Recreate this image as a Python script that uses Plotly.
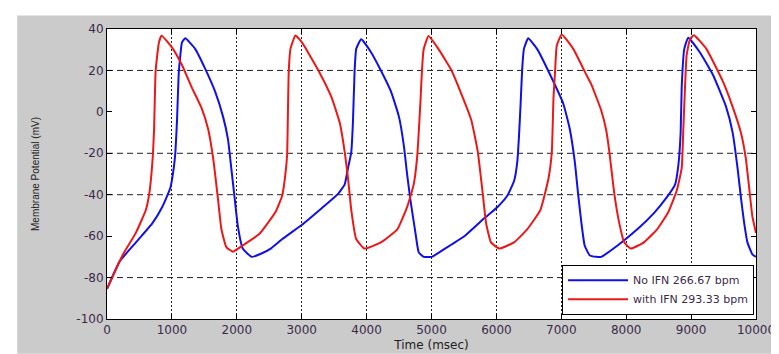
import plotly.graph_objects as go

# ---------------- data ----------------
time_no_ifn = [0, 193, 446, 700, 851, 978, 1028, 1054, 1079, 1104, 1130, 1155, 1206,
               1358, 1510, 1662, 1788, 1864, 1915, 1965, 2016, 2092, 2230, 2371, 2523,
               2701, 3004, 3308, 3561, 3663, 3713, 3764, 3789, 3815, 3840, 3916,
               4068, 4220, 4372, 4498, 4574, 4625, 4676, 4752, 4802, 4878, 5005,
               5208, 5512, 5816, 6018, 6170, 6272, 6322, 6348, 6373, 6398, 6424, 6489,
               6626, 6828, 7031, 7132, 7208, 7259, 7310, 7360, 7436, 7538, 7614,
               7867, 8171, 8424, 8627, 8754, 8804, 8839, 8855, 8895, 8956,
               9134, 9336, 9539, 9640, 9716, 9767, 9818, 9868, 9944, 10000]
v_no_ifn = [-85.5, -72.3, -63, -53.7, -45.9, -36.5, -27.2, -19.4, -3.9, 17.9, 27.3, 33.5, 35.5,
            30.4, 21, 10.1, -2.3, -13.2, -27.2, -41.2, -55.2, -66, -70, -68.5, -66,
            -61.4, -54.5, -46.5, -39.6, -35, -27.2, -19.4, -5.4, 19.5, 30.4, 35,
            28.8, 20, 10.1, -2.3, -16.3, -30.3, -42.7, -58.3, -67.7, -70, -70,
            -66, -59.9, -51.3, -45.9, -40.4, -33.4, -24.1, -11.7, 3.9, 21, 30.4, 35.5,
            30.4, 17.9, 3.9, -8.5, -24.1, -39.6, -53.7, -64.5, -69.2, -70, -70,
            -64.5, -56.7, -49, -41.2, -35, -25.7, -10, 11.7, 30.4, 35.8,
            28.8, 17.9, 2.4, -10, -27.2, -41.2, -53.7, -63, -68.8, -70]

time_ifn = [0, 243, 446, 598, 649, 700, 725, 750, 800, 841,
            1003, 1155, 1307, 1459, 1560, 1636, 1712, 1763, 1839, 1940, 2067,
            2345, 2599, 2700, 2751, 2776, 2790, 2801, 2827, 2903,
            3004, 3257, 3460, 3587, 3663, 3713, 3764, 3840, 3967,
            4220, 4473, 4625, 4726, 4777, 4828, 4853, 4878, 4954,
            5106, 5309, 5461, 5613, 5714, 5790, 5841, 5917, 6044,
            6272, 6474, 6677, 6804, 6854, 6880, 6905, 6930, 7006,
            7184, 7386, 7462, 7614, 7690, 7741, 7817, 7893, 7969, 8070,
            8273, 8476, 8652, 8779, 8855, 8880, 8906, 8931, 8982, 9043,
            9235, 9488, 9640, 9767, 9843, 9894, 9944, 10000]
v_ifn = [-85.5, -69, -58.3, -47.4, -40, -24, -8.5, 20, 33.5, 36.8,
         31, 22.6, 11.7, 1.7, -8.5, -22.5, -42.6, -56.7, -65.3, -67.5, -65,
         -59, -48.2, -40.4, -29.5, -20.2, 3.9, 20, 30.4, 36.9,
         33.5, 20, 7, -5.4, -19.4, -31.9, -47.4, -61.4, -66,
         -63, -56.7, -45.9, -35, -22.5, 3.9, 20, 30, 36.6,
         30.4, 20, 8.6, -3.9, -19.4, -39.6, -53.7, -63, -66,
         -63, -56.7, -47.4, -31.9, -19.4, 7, 20, 31.9, 37.4,
         30.4, 17.9, 13.3, 0.8, -8.5, -19.4, -39.6, -53.7, -63, -66,
         -63, -56.7, -48.2, -38, -27.2, -8.5, 11.7, 27.3, 35, 37,
         30.4, 14.8, 2.4, -10, -22.5, -36.5, -50.5, -58.5]

series_names = ["No IFN 266.67 bpm", "with IFN 293.33 bpm"]
x_ticks = [0, 1000, 2000, 3000, 4000, 5000, 6000, 7000, 8000, 9000, 10000]
x_tick_labels = [str(v) for v in x_ticks]
y_ticks = [40, 20, 0, -20, -40, -60, -80, -100]
y_tick_labels = [str(v) for v in y_ticks]
hgrid_values = [20, -20, -40, -80]
x_range = [0, 10000]
y_range = [-100, 40]

x_title = "Time (msec)"
y_title = "Membrane Potential (mV)"

# ---------------- figure ----------------
fig = go.Figure()
fig.add_trace(go.Scatter(x=time_no_ifn, y=v_no_ifn, mode="lines", name=series_names[0],
                         line=dict(color="#1010e8", width=2, shape="spline", smoothing=0.4)))
fig.add_trace(go.Scatter(x=time_ifn, y=v_ifn, mode="lines", name=series_names[1],
                         line=dict(color="#ec1818", width=2, shape="spline", smoothing=0.4)))

shapes = [
    # gray figure background (with thin white border at left/top)
    dict(type="rect", xref="paper", yref="paper", x0=-0.1383, x1=1.04, y0=-0.12, y1=1.0467,
         fillcolor="#cbcbcb", line=dict(width=0), layer="below"),
    dict(type="rect", xref="paper", yref="paper", x0=0, x1=1, y0=0, y1=1,
         fillcolor="white", line=dict(width=0), layer="below"),
]
for v in hgrid_values:
    shapes.append(dict(type="line", xref="paper", yref="y", x0=0, x1=1, y0=v, y1=v,
                       line=dict(color="#222", width=1, dash="6px,4px"), layer="below"))

fig.update_layout(
    width=779, height=354,
    margin=dict(l=99, r=22, t=21, b=33),
    paper_bgcolor="white",
    plot_bgcolor="white",
    shapes=shapes,
    font=dict(family="DejaVu Sans", size=12, color="#333"),
    showlegend=True,
    legend=dict(x=0.997, y=0.015, xanchor="right", yanchor="bottom",
                bgcolor="white", bordercolor="black", borderwidth=1,
                font=dict(family="DejaVu Sans", size=11, color="#3a2a4a"),
                tracegroupgap=0, itemwidth=60),
    xaxis=dict(range=x_range, tickvals=x_ticks, ticktext=x_tick_labels,
               showline=True, linecolor="black", linewidth=1, mirror="ticks",
               ticks="inside", ticklen=5, tickcolor="black",
               showgrid=True, gridcolor="#222", gridwidth=1, griddash="2px,2px",
               zeroline=False,
               tickfont=dict(family="DejaVu Sans", size=12, color="#3a2a4a"),
               title=dict(text=x_title, standoff=4,
                          font=dict(family="DejaVu Sans", size=12, color="#222"))),
    yaxis=dict(range=y_range, tickvals=y_ticks, ticktext=y_tick_labels,
               showline=True, linecolor="black", linewidth=1, mirror="ticks",
               ticks="inside", ticklen=5, tickcolor="black",
               showgrid=False, zeroline=False,
               tickfont=dict(family="DejaVu Sans", size=12, color="#3a2a4a"),
               title=dict(text=y_title, standoff=34,
                          font=dict(family="Liberation Sans", size=10, color="#222"))),
)

fig.write_html("out.html")
